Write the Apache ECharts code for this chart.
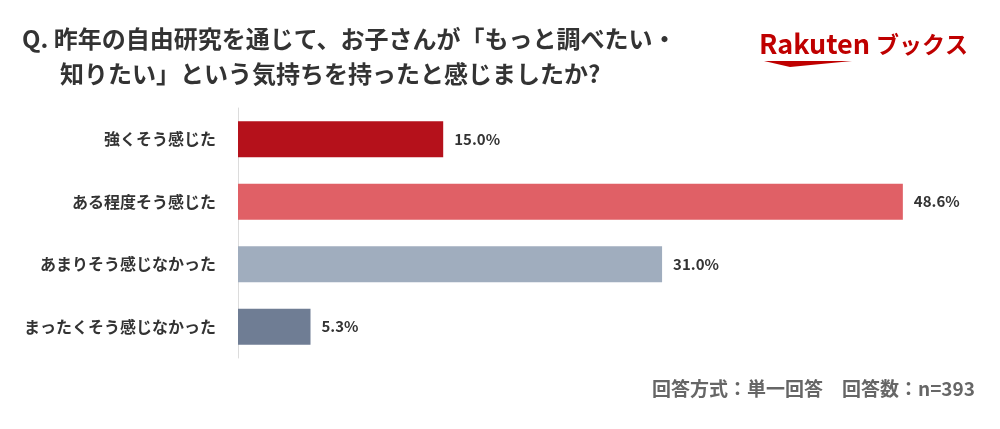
<!DOCTYPE html>
<html>
<head>
<meta charset="utf-8">
<script src="https://cdn.jsdelivr.net/npm/echarts@6/dist/echarts.min.js"></script>
<style>
  html, body { margin: 0; padding: 0; background: #fff; }
  #main { width: 1000px; height: 429px; }
</style>
</head>
<body>
<div id="main"></div>
<script>
// 回答データ
var categories = ['強くそう感じた', 'ある程度そう感じた', 'あまりそう感じなかった', 'まったくそう感じなかった'];
var values = [15.0, 48.6, 31.0, 5.3];
var barColors = ['#b5111b', '#e06066', '#a0adbe', '#6f7d94'];

var titleLine1 = 'Q. 昨年の自由研究を通じて、お子さんが「もっと調べたい・';
var titleLine2 = '知りたい」という気持ちを持ったと感じましたか?';
var footnote = '回答方式：単一回答　回答数：n=393';

var font = '"Noto Sans CJK JP", "Noto Sans", sans-serif';

var myChart = echarts.init(document.getElementById('main'));

var option = {
  backgroundColor: '#fff',
  animation: false,
  grid: {
    left: 238,
    right: 78,
    top: 108,
    bottom: 71
  },
  xAxis: {
    type: 'value',
    min: 0,
    max: 50,
    show: false
  },
  yAxis: {
    type: 'category',
    inverse: true,
    data: categories,
    axisLine: { show: true, lineStyle: { color: '#dcdcdc', width: 1 } },
    axisTick: { show: false },
    axisLabel: {
      margin: 22,
      color: '#333',
      fontSize: 16,
      fontWeight: 'bold',
      fontFamily: font
    }
  },
  series: [
    {
      type: 'bar',
      barWidth: 36,
      data: values.map(function (v, i) {
        return { value: v, itemStyle: { color: barColors[i] } };
      }),
      label: {
        show: true,
        position: 'right',
        distance: 11,
        color: '#333',
        fontSize: 15,
        fontWeight: 'bold',
        fontFamily: font,
        formatter: function (p) { return p.value.toFixed(1) + '%'; }
      }
    }
  ],
  graphic: [
    {
      type: 'text', left: 22, top: 27,
      style: { text: titleLine1, font: 'bold 24px ' + font, fill: '#333' }
    },
    {
      type: 'text', left: 60, top: 62,
      style: { text: titleLine2, font: 'bold 24px ' + font, fill: '#333' }
    },
    // 楽天ブックス ロゴ
    {
      type: 'text', left: 759, top: 30,
      style: { text: 'Rakuten', font: 'bold 27px ' + font, fill: '#bf0000' }
    },
    {
      type: 'text', left: 876, top: 33,
      style: { text: 'ブックス', font: 'bold 23px ' + font, fill: '#bf0000' }
    },
    {
      type: 'polygon',
      shape: { points: [[764, 61], [852, 61], [790, 67]] },
      style: { fill: '#bf0000' }
    },
    {
      type: 'text', right: 25, top: 379,
      style: { text: footnote, font: 'bold 19px ' + font, fill: '#666' }
    }
  ]
};

myChart.setOption(option);
</script>
</body>
</html>
